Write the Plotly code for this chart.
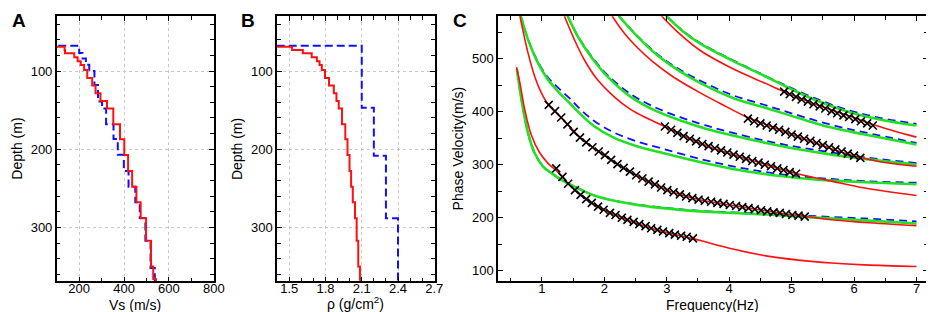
import plotly.graph_objects as go

W, H = 934, 312
FONT = "Liberation Sans, Arial, Helvetica, sans-serif"

# ---------------- Panel A / B : layered models ----------------
# inverted model (red): layer top depths (m), Vs (m/s), density (g/cm3)
red_top = [68.9, 73.2, 77.4, 82.5, 87.5, 92.3, 98.7, 109.0, 118.5, 128.3, 138.4, 147.8,
           168.2, 187.4, 207.5, 227.9, 248.0, 268.0, 288.5, 317.0, 350.0, 366.0]
red_vs = [135, 137, 178, 193, 207, 222, 236, 258, 273, 295, 324, 352,
          382, 401, 418, 436, 455, 474, 498, 520, 530, 542]
red_rho = [1.524, 1.613, 1.686, 1.729, 1.751, 1.770, 1.796, 1.829, 1.869, 1.891, 1.910, 1.937,
           1.964, 1.982, 1.999, 2.012, 2.026, 2.044, 2.058, 2.071, 2.085, 2.088]
# true model (blue dashed)
blue_vs_top = [67.6, 77, 84, 92, 100, 118, 139, 148, 168, 187, 207, 228, 248, 268, 288, 317, 352]
blue_vs = [200, 215, 230, 245, 268, 284, 302, 320, 353, 372, 399, 420, 450, 470, 495, 518, 537]
blue_rho_top = [67.6, 146.9, 208.3, 288.5]
blue_rho = [2.1, 2.2, 2.3, 2.4]
vs_surface = 0.0
rho_surface = 1.0
model_bottom = 390.0

# ---------------- Panel C : dispersion curves ----------------
# mode 0 (fundamental)
red0_f = [0.594, 0.647, 0.726, 0.831, 0.963, 1.095, 1.227, 1.33, 1.41, 1.527, 1.65, 1.83, 2.044, 2.31, 2.57, 2.835, 3.15, 3.44, 3.627, 4.06, 4.59, 5.11, 5.64, 6.17, 7.0]
red0_v = [484, 455, 404, 356, 323, 303, 289, 277, 266, 252, 241, 225, 212, 199, 187, 177, 168, 160, 154, 141, 128, 120, 114.5, 111, 108]
grn0_f = [0.6, 0.673, 0.778, 0.884, 1.016, 1.148, 1.306, 1.517, 1.886, 2.413, 2.94, 3.53, 4.06, 4.59, 5.27, 6.17, 7.0]
grn0_v = [481, 423, 360, 322, 297, 284.5, 272, 259, 240, 226.5, 218, 212, 209, 206, 201, 195, 189]
blu0_v = [481, 423, 360, 322, 297, 284.5, 272, 259, 240, 227, 219, 213, 210, 207.5, 203.5, 198.5, 193]
# mode 1
red1_f = [0.647, 0.778, 0.884, 0.99, 1.11, 1.227, 1.422, 1.622, 1.833, 2.044, 2.255, 2.52, 2.835, 3.15, 3.52, 3.85, 4.165, 4.48, 4.8, 5.11, 5.64, 6.17, 7.0]
red1_v = [581, 511, 467, 436, 412, 398, 375, 350, 331, 314, 297, 279, 261, 246, 234, 227, 221, 215, 209, 204, 196, 191, 185]
grn1_f = [0.662, 0.778, 0.937, 1.095, 1.253, 1.438, 1.622, 1.833, 2.15, 2.52, 2.94, 3.53, 4.06, 4.59, 5.11, 5.64, 6.17, 7.0]
grn1_v = [581, 536, 492, 461, 439, 417, 395, 373, 351, 335, 322, 305, 292, 282, 275, 270, 267, 263]
blu1_v = [581, 537, 494, 465, 446, 426, 404, 383, 361, 344, 330, 311, 297, 286, 278, 273, 269, 266]
# mode 2
red2_f = [1.359, 1.517, 1.675, 1.886, 2.15, 2.413, 2.68, 2.97, 3.3, 3.627, 4.0, 4.48, 5.088, 5.64, 6.17, 7.0]
red2_v = [581, 537, 499, 461, 429, 405, 388, 372, 353, 336, 321, 304, 283, 269, 256, 242]
grn2_f = [1.411, 1.57, 1.78, 2.044, 2.413, 2.835, 3.257, 3.627, 4.06, 4.59, 5.11, 5.64, 6.17, 7.0]
grn2_v = [581, 543, 505, 467, 429, 401, 382, 368, 355, 341, 329, 319, 311, 300]
blu2_v = [581, 544, 507, 470, 434, 407, 388, 374, 360, 345, 333, 323, 314, 303]
# mode 3
red3_f = [2.123, 2.308, 2.52, 2.78, 3.1, 3.53, 3.85, 4.3, 4.85, 5.38, 5.9, 6.12, 6.49, 7.0]
red3_v = [581, 550, 522, 494, 466, 436, 416, 389, 364, 341, 320, 313, 304, 297]
grn3_f = [2.229, 2.52, 2.835, 3.2, 3.58, 4.06, 4.59, 5.11, 5.64, 6.17, 7.0]
grn3_v = [581, 543, 508, 477, 451.5, 426, 407, 388, 370, 357, 338]
blu3_v = [581, 544, 510, 480, 456, 431, 412, 393, 375, 361, 341]
# mode 4
red4_f = [2.915, 3.15, 3.53, 4.06, 4.59, 4.877, 5.38, 5.905, 6.30, 7.0]
red4_v = [581, 553, 516, 481, 453, 438, 414, 393, 376, 352]
grn4_f = [2.99, 3.257, 3.53, 4.06, 4.59, 4.9, 5.38, 5.905, 6.43, 7.0]
grn4_v = [581, 552, 529, 496, 466, 448, 422, 400, 385, 374]
blu4_v = [581, 553, 530, 497, 467, 450, 425, 403, 388, 377]

# observed (picked) dispersion points
obs0_f = [1.23, 1.33, 1.42, 1.53, 1.62, 1.71, 1.80, 1.90, 1.99, 2.09, 2.18, 2.28, 2.37, 2.47, 2.56, 2.66, 2.75, 2.85, 2.94, 3.04, 3.13, 3.23, 3.32, 3.42]
obs0_v = [293, 277, 264, 252, 243, 235, 228, 221, 215, 209, 205, 200, 196, 192, 188, 184, 180, 177, 174, 171, 168, 166, 164, 161]
obs1_f = [1.11, 1.21, 1.31, 1.41, 1.51, 1.61, 1.71, 1.81, 1.91, 2.01, 2.11, 2.21, 2.31, 2.41, 2.51, 2.61, 2.71, 2.81, 2.91, 3.01, 3.11,
          3.21, 3.31, 3.41, 3.51, 3.61, 3.71, 3.81, 3.91, 4.01, 4.11, 4.21, 4.31, 4.41, 4.51, 4.61, 4.71, 4.81, 4.91, 5.01, 5.11, 5.21]
obs1_v = [413, 401, 389, 376, 362, 351, 342, 333, 325, 318, 309, 301, 294, 287, 280, 274, 268, 263, 257, 252, 248,
          244, 240, 237, 234, 232, 230, 228, 226, 224, 222, 220, 218, 216, 214, 212, 210, 209, 207, 205, 204, 202]
obs2_f = [2.97, 3.07, 3.17, 3.27, 3.37, 3.47, 3.57, 3.67, 3.77, 3.87, 3.97, 4.07, 4.17, 4.27, 4.37, 4.47, 4.57, 4.67, 4.77, 4.87, 4.97, 5.07]
obs2_v = [372, 366, 360, 354, 349, 344, 339, 335, 331, 327, 323, 319, 315, 311, 307, 304, 300, 297, 293, 290, 286, 283]
obs3_f = [4.3, 4.4, 4.5, 4.6, 4.7, 4.8, 4.9, 5.0, 5.1, 5.2, 5.3, 5.4, 5.5, 5.6, 5.7, 5.8, 5.9, 6.0, 6.1]
obs3_v = [387, 382, 378, 374, 370, 366, 362, 357, 353, 349, 345, 341, 337, 333, 329, 325, 321, 317, 313]
obs4_f = [4.88, 4.97, 5.07, 5.16, 5.26, 5.35, 5.45, 5.54, 5.64, 5.73, 5.83, 5.92, 6.02, 6.11, 6.21, 6.30]
obs4_v = [438, 433, 428, 423, 419, 414, 410, 406, 401, 397, 393, 390, 386, 382, 378, 374]

RED = "#ff1010"
GREEN = "#22e022"
BLUE = "#1010ff"


def step_path(tops, vals, start, bottom):
    xs = [start] + list(vals) + [vals[-1]]
    ys = [tops[0]] + list(tops) + [bottom]
    return xs, ys


fig = go.Figure()

# Panel A
bx, by = step_path(blue_vs_top, blue_vs, vs_surface, model_bottom)
fig.add_trace(go.Scatter(x=bx, y=by, mode="lines", line=dict(color=BLUE, width=2, dash="8px,4px", shape="vh"),
                         xaxis="x", yaxis="y", showlegend=False))
rx, ry = step_path(red_top, red_vs, vs_surface, model_bottom)
fig.add_trace(go.Scatter(x=rx, y=ry, mode="lines", line=dict(color=RED, width=2, shape="vh"),
                         xaxis="x", yaxis="y", showlegend=False))

# Panel B
bx, by = step_path(blue_rho_top, blue_rho, rho_surface, model_bottom)
fig.add_trace(go.Scatter(x=bx, y=by, mode="lines", line=dict(color=BLUE, width=2, dash="8px,4px", shape="vh"),
                         xaxis="x2", yaxis="y2", showlegend=False))
rx, ry = step_path(red_top, red_rho, rho_surface, model_bottom)
fig.add_trace(go.Scatter(x=rx, y=ry, mode="lines", line=dict(color=RED, width=2, shape="vh"),
                         xaxis="x2", yaxis="y2", showlegend=False))

# Panel C
curves = [
    (grn0_f, blu0_v, grn0_v, red0_f, red0_v),
    (grn1_f, blu1_v, grn1_v, red1_f, red1_v),
    (grn2_f, blu2_v, grn2_v, red2_f, red2_v),
    (grn3_f, blu3_v, grn3_v, red3_f, red3_v),
    (grn4_f, blu4_v, grn4_v, red4_f, red4_v),
]
for gf, bv, gv, rf, rv in curves:
    fig.add_trace(go.Scatter(x=gf, y=bv, mode="lines", line=dict(color=BLUE, width=1.8, dash="8px,5px", shape="spline"),
                             xaxis="x3", yaxis="y3", showlegend=False))
for gf, bv, gv, rf, rv in curves:
    fig.add_trace(go.Scatter(x=gf, y=gv, mode="lines", line=dict(color=GREEN, width=2.6, shape="spline"),
                             xaxis="x3", yaxis="y3", showlegend=False))
for gf, bv, gv, rf, rv in curves:
    fig.add_trace(go.Scatter(x=rf, y=rv, mode="lines", line=dict(color=RED, width=1.6, shape="spline"),
                             xaxis="x3", yaxis="y3", showlegend=False))
for of, ov in [(obs0_f, obs0_v), (obs1_f, obs1_v), (obs2_f, obs2_v), (obs3_f, obs3_v), (obs4_f, obs4_v)]:
    fig.add_trace(go.Scatter(x=of, y=ov, mode="markers",
                             marker=dict(symbol="x-thin", size=8, color="black", line=dict(width=1.6, color="black")),
                             xaxis="x3", yaxis="y3", showlegend=False))


def fx(a, b):
    return [a / W, b / W]


def fy(top, bottom):
    return [1 - bottom / H, 1 - top / H]


base = dict(showline=True, linecolor="black", linewidth=1.5, mirror="allticks", ticks="inside",
            ticklen=5, tickwidth=1.2, tickcolor="black", zeroline=False,
            tickfont=dict(size=13, color="black", family=FONT))
grid = dict(showgrid=True, gridcolor="#c8c8c8", gridwidth=1, griddash="3px,3px")
nogrid = dict(showgrid=False)


def minor(d, t0=0):
    return dict(ticks="inside", ticklen=4, tickwidth=1.2, tickcolor="black", dtick=d, tick0=t0, showgrid=False)


XSTAND = -6
YDOM = fy(8.3, 273.3)
fig.update_layout(
    width=W, height=H, margin=dict(l=0, r=0, t=0, b=0), autosize=False,
    paper_bgcolor="white", plot_bgcolor="white", showlegend=False,
    font=dict(family=FONT, color="black"),
    xaxis=dict(domain=fx(49.3, 208.3), range=[100, 800], tick0=0, dtick=200, minor=minor(100),
               anchor="y", ticklabelstandoff=XSTAND, **base, **grid),
    yaxis=dict(domain=YDOM, range=[369, 30], tick0=0, dtick=100, minor=minor(20),
               anchor="x", **base, **grid),
    xaxis2=dict(domain=fx(272.3, 432), range=[1.4, 2.705], tick0=1.5, dtick=0.3, minor=minor(0.1, 1.5),
                anchor="y2", ticklabelstandoff=XSTAND, **base, **grid),
    yaxis2=dict(domain=YDOM, range=[369, 30], tick0=0, dtick=100, minor=minor(20),
                anchor="x2", **base, **grid),
    xaxis3=dict(domain=fx(496, 930.7), range=[0.3, 7.18], tick0=0, dtick=1, minor=minor(0.5),
                anchor="y3", ticklabelstandoff=XSTAND, **base, **nogrid),
    yaxis3=dict(domain=YDOM, range=[80, 580], tick0=0, dtick=100, minor=minor(50),
                anchor="x3", **base, **nogrid),
)


def ann(text, xp, yp, size=14, angle=0, bold=False):
    if bold:
        text = "<b>" + text + "</b>"
    fig.add_annotation(text=text, x=xp / W, y=1 - yp / H, xref="paper", yref="paper",
                       xanchor="center", yanchor="middle", showarrow=False, textangle=angle,
                       font=dict(size=size, color="black", family=FONT))


ann("Vs (m/s)", 128.8, 297)
ann("Depth (m)", 9, 140.8, angle=-90)
ann("ρ (g/cm<sup>2</sup>)", 352, 295)
ann("Depth (m)", 232, 140.8, angle=-90)
ann("Frequency(Hz)", 713, 297)
ann("Phase Velocity(m/s)", 455, 140.8, angle=-90)
ann("A", 11, 13, size=19, bold=True)
ann("B", 243, 13, size=19, bold=True)
ann("C", 457.5, 13, size=19, bold=True)

fig.write_html("out.html")
